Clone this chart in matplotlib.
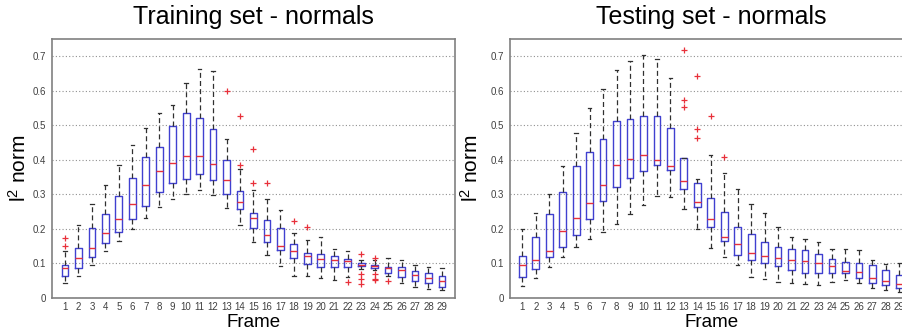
import numpy as np
import matplotlib
matplotlib.use('Agg')
import matplotlib.pyplot as plt

plt.rcParams['font.family'] = ['Liberation Sans', 'DejaVu Sans']
plt.rcParams['mathtext.fontset'] = 'custom'
plt.rcParams['mathtext.rm'] = 'Liberation Sans'
plt.rcParams['mathtext.it'] = 'Liberation Sans'

frames = list(range(1, 30))
yticks = [0, 0.1, 0.2, 0.3, 0.4, 0.5, 0.6, 0.7]
ytick_labels = ['0', '0.1', '0.2', '0.3', '0.4', '0.5', '0.6', '0.7']

# training set - normals
train_whislo = [0.042, 0.065, 0.096, 0.135, 0.165, 0.199, 0.231, 0.263, 0.286, 0.301, 0.313, 0.298, 0.260, 0.212, 0.163,
                0.125, 0.093, 0.065, 0.063, 0.058, 0.051, 0.061, 0.084, 0.082, 0.063, 0.043, 0.032, 0.026, 0.022]
train_q1 = [0.065, 0.088, 0.119, 0.158, 0.192, 0.228, 0.265, 0.306, 0.332, 0.346, 0.358, 0.343, 0.301, 0.259, 0.204,
            0.163, 0.139, 0.117, 0.098, 0.089, 0.089, 0.089, 0.092, 0.087, 0.073, 0.061, 0.050, 0.042, 0.032]
train_med = [0.087, 0.117, 0.144, 0.188, 0.228, 0.272, 0.328, 0.368, 0.392, 0.412, 0.410, 0.387, 0.341, 0.277, 0.233,
             0.183, 0.151, 0.135, 0.122, 0.113, 0.111, 0.106, 0.097, 0.092, 0.086, 0.082, 0.066, 0.057, 0.048]
train_q3 = [0.096, 0.146, 0.202, 0.242, 0.295, 0.348, 0.407, 0.438, 0.497, 0.536, 0.520, 0.488, 0.401, 0.309, 0.247,
            0.226, 0.202, 0.155, 0.131, 0.126, 0.123, 0.114, 0.100, 0.097, 0.089, 0.089, 0.079, 0.071, 0.063]
train_whishi = [0.137, 0.212, 0.271, 0.327, 0.385, 0.443, 0.491, 0.535, 0.560, 0.622, 0.664, 0.656, 0.460, 0.375, 0.313,
                0.288, 0.255, 0.188, 0.168, 0.176, 0.142, 0.135, 0.111, 0.109, 0.116, 0.111, 0.096, 0.089, 0.086]
train_fliers = {1: [0.175, 0.152], 13: [0.60], 14: [0.528, 0.385], 15: [0.431, 0.332], 16: [0.332],
                18: [0.223], 19: [0.205], 22: [0.046], 23: [0.128, 0.069, 0.056, 0.041],
                24: [0.117, 0.069, 0.056, 0.051], 25: [0.050]}

# testing set - normals
test_whislo = [0.036, 0.058, 0.089, 0.120, 0.149, 0.172, 0.190, 0.213, 0.242, 0.269, 0.295, 0.292, 0.257, 0.199, 0.144,
               0.119, 0.097, 0.062, 0.054, 0.047, 0.044, 0.040, 0.039, 0.046, 0.051, 0.042, 0.028, 0.023, 0.017]
test_q1 = [0.061, 0.085, 0.119, 0.148, 0.183, 0.228, 0.281, 0.322, 0.348, 0.369, 0.384, 0.372, 0.315, 0.264, 0.206,
           0.165, 0.124, 0.109, 0.100, 0.093, 0.082, 0.072, 0.072, 0.072, 0.073, 0.059, 0.044, 0.039, 0.029]
test_med = [0.095, 0.109, 0.137, 0.194, 0.232, 0.276, 0.326, 0.384, 0.403, 0.413, 0.400, 0.383, 0.339, 0.277, 0.230,
            0.177, 0.157, 0.131, 0.123, 0.117, 0.111, 0.107, 0.101, 0.092, 0.078, 0.076, 0.057, 0.050, 0.041]
test_q3 = [0.123, 0.178, 0.244, 0.307, 0.383, 0.423, 0.460, 0.512, 0.519, 0.528, 0.528, 0.492, 0.406, 0.334, 0.290,
           0.250, 0.207, 0.186, 0.161, 0.149, 0.142, 0.138, 0.126, 0.114, 0.105, 0.100, 0.096, 0.080, 0.067]
test_whishi = [0.200, 0.247, 0.301, 0.383, 0.478, 0.549, 0.604, 0.659, 0.686, 0.704, 0.692, 0.638, 0.406, 0.345, 0.414,
               0.361, 0.315, 0.273, 0.247, 0.207, 0.178, 0.172, 0.163, 0.143, 0.141, 0.139, 0.109, 0.099, 0.102]
test_fliers = {13: [0.718, 0.574, 0.553], 14: [0.643, 0.489, 0.464], 15: [0.526], 16: [0.408]}


def make_stats(whislo, q1, med, q3, whishi, fliers):
    stats = []
    for i, f in enumerate(frames):
        stats.append(dict(whislo=whislo[i], q1=q1[i], med=med[i], q3=q3[i], whishi=whishi[i],
                          fliers=np.array(fliers.get(f, []))))
    return stats


def draw(ax, stats, title, xlim, ylab_x):
    ax.yaxis.grid(True, linestyle=(0, (1, 2)), color='#909090', linewidth=0.8, zorder=0)
    ax.set_axisbelow(True)
    ax.bxp(stats, positions=frames, widths=0.5, showfliers=True, patch_artist=False,
           boxprops=dict(color='#4040d0', linewidth=1.0),
           whiskerprops=dict(color='#303030', linestyle=(0, (4, 2.5)), linewidth=0.9),
           capprops=dict(color='#303030', linewidth=0.9),
           medianprops=dict(color='#e8303a', linewidth=1.0),
           flierprops=dict(marker='+', markeredgecolor='#e8303a', markersize=5, markeredgewidth=0.9,
                           linestyle='none'))
    ax.set_xlim(*xlim)
    ax.set_ylim(0, 0.75)
    ax.set_xticks(frames)
    ax.set_xticklabels([str(f) for f in frames])
    ax.set_yticks(yticks)
    ax.set_yticklabels(ytick_labels)
    ax.tick_params(length=0, labelsize=7, labelcolor='#404040')
    ax.tick_params(axis='x', pad=3)
    ax.tick_params(axis='y', pad=4)
    for s in ax.spines.values():
        s.set_color('#808080')
        s.set_linewidth(1.2)
    ax.set_title(title, fontsize=18, pad=11)
    ax.set_xlabel('Frame', fontsize=13.5)
    ax.xaxis.set_label_coords(0.5, -0.062)
    ax.set_ylabel(r'l$^{\mathrm{2}}$ norm', fontsize=15)
    ax.yaxis.set_label_coords(ylab_x, 0.5)


fig = plt.figure(figsize=(9.03, 3.31), dpi=100)
ax1 = fig.add_axes([52 / 903, 33 / 331, 403 / 903, 259 / 331])
ax2 = fig.add_axes([510 / 903, 33 / 331, 403 / 903, 259 / 331])

draw(ax1, make_stats(train_whislo, train_q1, train_med, train_q3, train_whishi, train_fliers),
     'Training set - normals', (0.034, 29.97), -0.055)
draw(ax2, make_stats(test_whislo, test_q1, test_med, test_q3, test_whishi, test_fliers),
     'Testing set - normals', (0.086, 30.02), -0.07)

fig.savefig('out.png', dpi=100)
